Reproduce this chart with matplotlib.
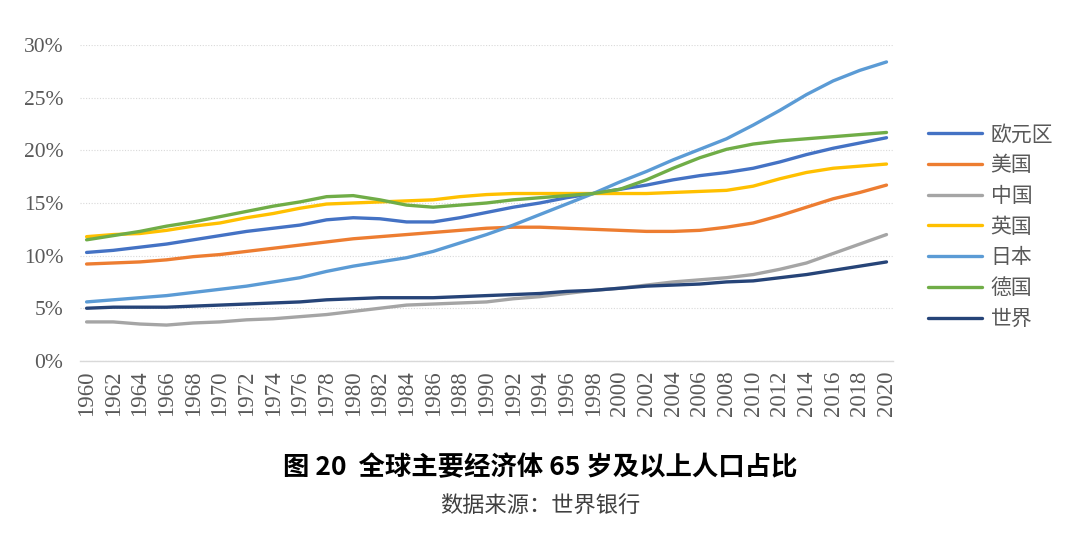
import matplotlib
matplotlib.use("Agg")
import matplotlib.pyplot as plt
from matplotlib.ticker import FuncFormatter

years = list(range(1960, 2021, 2))

euro = [10.3, 10.5, 10.8, 11.1, 11.5, 11.9, 12.3, 12.6, 12.9, 13.4, 13.6, 13.5, 13.2, 13.2, 13.6, 14.1,
        14.6, 15.0, 15.5, 15.9, 16.3, 16.7, 17.2, 17.6, 17.9, 18.3, 18.9, 19.6, 20.2, 20.7, 21.2]
usa = [9.2, 9.3, 9.4, 9.6, 9.9, 10.1, 10.4, 10.7, 11.0, 11.3, 11.6, 11.8, 12.0, 12.2, 12.4, 12.6,
       12.7, 12.7, 12.6, 12.5, 12.4, 12.3, 12.3, 12.4, 12.7, 13.1, 13.8, 14.6, 15.4, 16.0, 16.7]
china = [3.7, 3.7, 3.5, 3.4, 3.6, 3.7, 3.9, 4.0, 4.2, 4.4, 4.7, 5.0, 5.3, 5.4, 5.5, 5.6,
         5.9, 6.1, 6.4, 6.7, 6.9, 7.2, 7.5, 7.7, 7.9, 8.2, 8.7, 9.3, 10.2, 11.1, 12.0]
uk = [11.8, 12.0, 12.1, 12.4, 12.8, 13.1, 13.6, 14.0, 14.5, 14.9, 15.0, 15.1, 15.2, 15.3, 15.6, 15.8,
      15.9, 15.9, 15.9, 15.9, 15.9, 15.9, 16.0, 16.1, 16.2, 16.6, 17.3, 17.9, 18.3, 18.5, 18.7]
japan = [5.6, 5.8, 6.0, 6.2, 6.5, 6.8, 7.1, 7.5, 7.9, 8.5, 9.0, 9.4, 9.8, 10.4, 11.2, 12.0,
         12.9, 13.9, 14.9, 15.9, 17.0, 18.0, 19.1, 20.1, 21.1, 22.4, 23.8, 25.3, 26.6, 27.6, 28.4]
germany = [11.5, 11.9, 12.3, 12.8, 13.2, 13.7, 14.2, 14.7, 15.1, 15.6, 15.7, 15.3, 14.8, 14.6, 14.8, 15.0,
           15.3, 15.5, 15.7, 15.9, 16.3, 17.2, 18.3, 19.3, 20.1, 20.6, 20.9, 21.1, 21.3, 21.5, 21.7]
world = [5.0, 5.1, 5.1, 5.1, 5.2, 5.3, 5.4, 5.5, 5.6, 5.8, 5.9, 6.0, 6.0, 6.0, 6.1, 6.2,
         6.3, 6.4, 6.6, 6.7, 6.9, 7.1, 7.2, 7.3, 7.5, 7.6, 7.9, 8.2, 8.6, 9.0, 9.4]

names = ["欧元区", "美国", "中国", "英国", "日本", "德国", "世界"]
colors = ["#4472C4", "#ED7D31", "#A5A5A5", "#FFC000", "#5B9BD5", "#70AD47", "#264478"]
series = [euro, usa, china, uk, japan, germany, world]

title = "图 20  全球主要经济体 65 岁及以上人口占比"
source = "数据来源：世界银行"

plt.rcParams['font.family'] = ['Noto Sans CJK SC', 'DejaVu Sans']

fig = plt.figure(figsize=(10.8, 5.37), dpi=100)
ax = fig.add_axes([0.074, 0.328, 0.753, 0.588])

for vals, name, c in zip(series, names, colors):
    ax.plot(years, vals, color=c, lw=2.4, label=name, solid_capstyle='round')

ax.set_xlim(1959.5, 2020.5)
ax.set_ylim(0, 30)
ax.set_yticks([0, 5, 10, 15, 20, 25, 30])
ax.yaxis.set_major_formatter(FuncFormatter(lambda v, p: f"{int(v)}%"))
ax.set_xticks(years)
ax.set_xticklabels([str(y) for y in years], rotation=90)

for lab in ax.get_yticklabels() + ax.get_xticklabels():
    lab.set_fontfamily('Liberation Serif')
    lab.set_color('#595959')
for lab in ax.get_yticklabels():
    lab.set_fontsize(15.5)
for lab in ax.get_xticklabels():
    lab.set_fontsize(16.5)

ax.tick_params(axis='y', length=0, pad=12)
ax.tick_params(axis='x', length=0, pad=7)
ax.grid(axis='y', color='#D9D9D9', lw=0.8, ls=(0, (1, 1.5)))
for s in ['top', 'right', 'left']:
    ax.spines[s].set_visible(False)
ax.spines['bottom'].set_color('#D9D9D9')
ax.spines['bottom'].set_linewidth(1.0)
ax.set_axisbelow(True)

leg = ax.legend(loc='center left', bbox_to_anchor=(1.02, 0.425), frameon=False,
                fontsize=15, handlelength=2.6, handletextpad=0.4, labelspacing=0.42)
for t in leg.get_texts():
    t.set_color('#595959')

fig.text(0.5, 0.13, title, ha='center', va='center', fontsize=19, fontweight='bold', color='black')
fig.text(0.5, 0.058, source, ha='center', va='center', fontsize=16, color='#404040')

fig.savefig("out.png", dpi=100)
